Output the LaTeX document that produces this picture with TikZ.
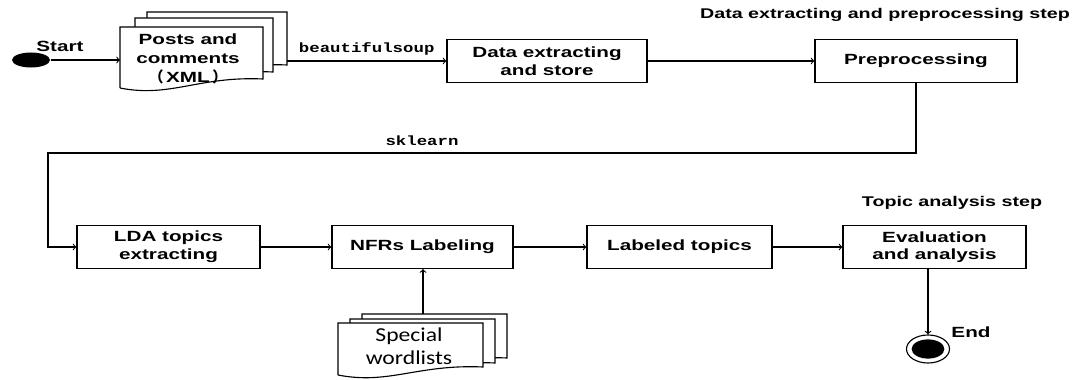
\documentclass[tikz,border=0pt]{standalone}
\usepackage{fontspec}
\setmainfont{Liberation Sans}[FakeStretch=1.4]
\newfontfamily\codefont{Liberation Mono}[FakeStretch=1.3]
\newfontfamily\listfont{Carlito}[FakeStretch=1.2]
\newfontfamily\cjk{Noto Sans CJK SC}
\usetikzlibrary{shapes.geometric}

% one sheet of a document stack: x1, top, x2, bottom left, bottom right
\newcommand{\docsheet}[5]{%
  \filldraw[fill=white] (#1,#4) -- (#1,#2) -- (#3,#2) -- (#3,#5)
    .. controls ({#3-0.45*(#3-#1)},{#5-3}) and ({#1+0.35*(#3-#1)},{#4+10}) .. (#1,#4);}

\begin{document}
\begin{tikzpicture}[x=0.025cm, y=-0.025cm, line width=0.8pt, >=to,
  font=\bfseries\fontsize{10.5}{12.5}\selectfont,
  stepbox/.style={draw, fill=white, align=center, minimum height=1.075cm, inner sep=2pt},
  note/.style={font=\bfseries\fontsize{10}{12}\selectfont},
  code/.style={font=\codefont\bfseries\fontsize{9.5}{11}\selectfont}]
\useasboundingbox (0,0) rectangle (1084,380);

% first row: extracting and preprocessing
\node[ellipse, fill=black, minimum width=0.95cm, minimum height=0.375cm, inner sep=0] (start) at (31,60) {};
\node (startlbl) at (60,46) {Start};

\docsheet{147}{12}{287}{72}{65}
\docsheet{135}{18}{273}{80}{72}
\docsheet{120}{27}{263}{88}{79}
\node[align=center, font=\bfseries\fontsize{10.5}{13.5}\selectfont] (posts) at (188,59) {Posts and\\comments\\{\cjk （}\,XML\,{\cjk ）}};
\coordinate (postsin) at (120,60);
\coordinate (postsout) at (287,61);

\node[stepbox, minimum width=5cm] (store) at (547,61) {Data extracting\\and store};
\node[stepbox, minimum width=5.05cm] (prep) at (916,61) {Preprocessing};
\node[note] (title1) at (885,15) {Data extracting and preprocessing step};

\draw[->] (start) -- (postsin);
\draw[->] (postsout) -- (store) node[code, midway, above] {beautifulsoup};
\draw[->] (store) -- (prep);

% second row: topic analysis
\node[stepbox, minimum width=4.575cm] (lda) at (168.5,247) {LDA topics\\extracting};
\node[stepbox, minimum width=4.525cm] (nfr) at (422.5,247) {NFRs Labeling};
\node[stepbox, minimum width=4.625cm] (labeled) at (679.5,247) {Labeled topics};
\node[stepbox, minimum width=4.575cm] (eval) at (934.5,247) {Evaluation\\and analysis};
\node[note] (title2) at (952,203) {Topic analysis step};

\coordinate (turnl) at (48,153);
\draw[->] (prep.south) -- (prep.south |- turnl) -- (turnl) |- (lda);
\node[code] (sklearn) at (422,141) {sklearn};

\foreach \a/\b in {lda/nfr, nfr/labeled, labeled/eval}
  \draw[->] (\a) -- (\b);

\docsheet{362}{314}{507}{365}{358}
\docsheet{350}{319}{495}{370}{363}
\docsheet{338}{323}{483}{375}{367}
\node[font=\listfont\fontsize{14}{16}\selectfont, align=center] (words) at (409,346) {Special\\wordlists};
\coordinate (wordsout) at (423,314);
\draw[->] (wordsout) -- (wordsout |- nfr.south);

\node[ellipse, draw, minimum width=1.075cm, minimum height=0.7cm, inner sep=0] (end) at (928,349) {};
\node[ellipse, fill=black, minimum width=0.82cm, minimum height=0.48cm, inner sep=0] (enddot) at (end) {};
\node (endlbl) at (971,332) {End};
\draw[->] (eval.south -| end) -- (end.north);
\end{tikzpicture}
\end{document}
